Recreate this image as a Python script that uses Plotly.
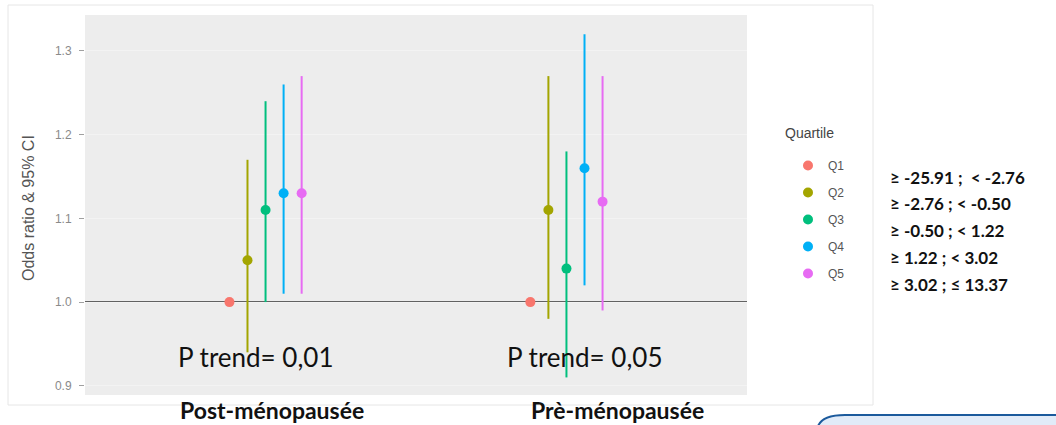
import plotly.graph_objects as go

# ---- data ----
categories = ["Post-ménopausée", "Prè-ménopausée"]
quartiles = ["Q1", "Q2", "Q3", "Q4", "Q5"]
odds_ratio = {
    "Q1": [1.00, 1.00],
    "Q2": [1.05, 1.11],
    "Q3": [1.11, 1.04],
    "Q4": [1.13, 1.16],
    "Q5": [1.13, 1.12],
}
ci_low = {
    "Q1": [1.00, 1.00],
    "Q2": [0.94, 0.98],
    "Q3": [1.00, 0.91],
    "Q4": [1.01, 1.02],
    "Q5": [1.01, 0.99],
}
ci_high = {
    "Q1": [1.00, 1.00],
    "Q2": [1.17, 1.27],
    "Q3": [1.24, 1.18],
    "Q4": [1.26, 1.32],
    "Q5": [1.27, 1.27],
}
p_trend = ["P trend= 0,01", "P trend= 0,05"]
quartile_ranges = [
    "≥ -25.91 ;  < -2.76",
    "≥ -2.76 ; < -0.50",
    "≥ -0.50 ; < 1.22",
    "≥ 1.22 ; < 3.02",
    "≥ 3.02 ; ≤ 13.37",
]
y_ticks = [0.9, 1.0, 1.1, 1.2, 1.3]

colors = ["#F8766D", "#A3A500", "#00BF7D", "#00B0F6", "#E76BF3"]

W, H = 1056, 425
def px(x):
    return x / W
def py(y):
    return 1 - y / H

dodge = 0.06
fig = go.Figure()
for i, q in enumerate(quartiles):
    xs = [k + 1 + (i - 2) * dodge for k in range(len(categories))]
    ors = odds_ratio[q]
    up = [h - o for h, o in zip(ci_high[q], ors)]
    dn = [o - l for o, l in zip(ors, ci_low[q])]
    fig.add_trace(go.Scatter(
        x=xs, y=ors, mode="markers", name=q, legendgroup=q,
        marker=dict(color=colors[i], size=10, symbol="circle"),
        error_y=dict(type="data", symmetric=False, array=up, arrayminus=dn,
                     color=colors[i], thickness=2, width=0),
    ))

x0, x1 = 85, 747
y0, y1 = 15, 395

fig.update_layout(
    width=W, height=H,
    margin=dict(l=0, r=0, t=0, b=0),
    paper_bgcolor="white",
    plot_bgcolor="#EDEDED",
    xaxis=dict(domain=[px(x0), px(x1)], range=[0.4, 2.6], showticklabels=False,
               showgrid=False, zeroline=False, ticks=""),
    yaxis=dict(domain=[py(y1), py(y0)], range=[0.889, 1.343],
               tickvals=y_ticks, ticktext=[f"{v:.1f}" for v in y_ticks],
               tickfont=dict(family="Liberation Sans", size=12, color="#8A8A8A"),
               ticks="outside", ticklen=5, tickcolor="#A0A0A0", ticklabelstandoff=5,
               showgrid=True, gridcolor="#F3F3F3", gridwidth=1, zeroline=False),
    legend=dict(x=px(788), y=py(151), xanchor="left", yanchor="top",
                bgcolor="rgba(0,0,0,0)",
                font=dict(family="Liberation Sans", size=12, color="#555"),
                tracegroupgap=8, itemwidth=30),
    showlegend=True,
)

shapes = [
    # faint outer frame of pasted image
    dict(type="rect", xref="paper", yref="paper", x0=px(8), x1=px(873), y0=py(405), y1=py(5),
         line=dict(color="#E6E6E6", width=1), fillcolor="rgba(0,0,0,0)", layer="below"),
    # reference line at OR = 1
    dict(type="line", xref="x domain", yref="y", x0=0, x1=1, y0=1.0, y1=1.0,
         line=dict(color="#333333", width=1.5), layer="below"),
    # rounded box bottom right
    dict(type="path", xref="paper", yref="paper",
         path=f"M {px(817)},{py(440)} L {px(817)},{py(432)} Q {px(817)},{py(415)} {px(845)},{py(415)} L {px(1070)},{py(415)} L {px(1070)},{py(440)} Z",
         line=dict(color="#1B5A9C", width=2), fillcolor="#E1EBF8"),
]
fig.update_layout(shapes=shapes)

ann = []
ann.append(dict(text="Odds ratio & 95% CI", x=px(28), y=py(208), xref="paper", yref="paper",
                xanchor="center", yanchor="middle", textangle=-90, showarrow=False,
                font=dict(family="Liberation Sans", size=16, color="#555")))
ann.append(dict(text="Quartile", x=px(783), y=py(133), xref="paper", yref="paper",
                xanchor="left", yanchor="middle", showarrow=False,
                font=dict(family="Liberation Sans", size=14, color="#444")))
for t, cx in zip(p_trend, [255, 584]):
    ann.append(dict(text=t, x=px(cx), y=py(357), xref="paper", yref="paper", showarrow=False,
                    xanchor="center", yanchor="middle",
                    font=dict(family="Lato", size=26, color="#111")))
for t, cx in zip(categories, [272, 617]):
    ann.append(dict(text=f"<b>{t}</b>", x=px(cx), y=py(410), xref="paper", yref="paper",
                    xanchor="center", yanchor="middle",
                    showarrow=False, font=dict(family="Lato", size=23, color="#111")))
for i, t in enumerate(quartile_ranges):
    ann.append(dict(text=f"<b>{t}</b>", x=px(888), y=py(177 + i * 26.8), xref="paper", yref="paper",
                    xanchor="left", yanchor="middle", showarrow=False,
                    font=dict(family="Lato", size=17, color="#111")))
fig.update_layout(annotations=ann)

fig.write_html("out.html")
